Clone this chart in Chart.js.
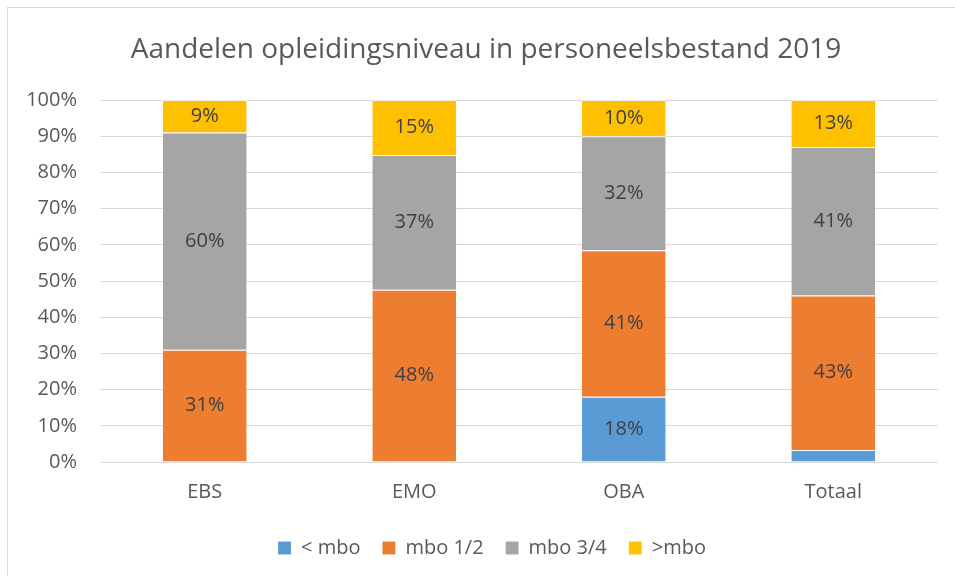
<!DOCTYPE html>
<html>
<head>
<meta charset="utf-8">
<script src="https://cdn.jsdelivr.net/npm/chart.js@4/dist/chart.umd.min.js"></script>
<style>
  html, body { margin: 0; padding: 0; background: #fff; }
  #wrap { position: relative; width: 955px; height: 576px; }
  #frame { position: absolute; left: 7px; top: 7px; width: 960px; height: 600px; border: 1px solid #d9d9d9; pointer-events: none; }
</style>
</head>
<body>
<div id="wrap">
  <canvas id="barChart" width="955" height="576"></canvas>
  <div id="frame"></div>
</div>
<script>
var chartTitle = "Aandelen opleidingsniveau in personeelsbestand 2019";
var categories = ["EBS", "EMO", "OBA", "Totaal"];
var seriesNames = ["< mbo", "mbo 1/2", "mbo 3/4", ">mbo"];
var onderMbo = [0, 0, 18, 3.3];
var mbo12 = [31, 47.6, 40.5, 42.7];
var mbo34 = [60, 37.2, 31.5, 41];
var bovenMbo = [9, 15.2, 10, 13];
var yTicks = [0, 10, 20, 30, 40, 50, 60, 70, 80, 90, 100];

var colors = ["#5b9bd5", "#ed7d31", "#a5a5a5", "#ffc000"];
var fontName = "'Open Sans', sans-serif";

// titel zelf tekenen, gecentreerd op het hele kader
var titlePlugin = {
  id: "titlePlugin",
  afterLayout: function(chart) {
    // legenda iets naar rechts, zoals in het origineel
    chart.legend.left += 23;
    chart.legend.right += 23;
  },
  afterDraw: function(chart) {
    var ctx = chart.ctx;
    ctx.save();
    ctx.font = "28px " + fontName;
    ctx.fillStyle = "#595959";
    ctx.textAlign = "center";
    ctx.textBaseline = "alphabetic";
    ctx.fillText(chartTitle, 486, 58);
    ctx.restore();
  }
};

// eigen plugin voor de waarden in de balken
var segmentLabels = {
  id: "segmentLabels",
  afterDatasetsDraw: function(chart) {
    var ctx = chart.ctx;
    ctx.save();
    ctx.font = "20px " + fontName;
    ctx.fillStyle = "#404040";
    ctx.textAlign = "center";
    ctx.textBaseline = "middle";
    chart.data.datasets.forEach(function(ds, i) {
      var meta = chart.getDatasetMeta(i);
      meta.data.forEach(function(bar, j) {
        var v = ds.data[j];
        if (v < 5) return;
        var mid = (bar.y + bar.base) / 2;
        ctx.fillText(Math.round(v) + "%", bar.x, mid);
      });
    });
    ctx.restore();
  }
};

var ctx = document.getElementById("barChart").getContext("2d");
var chart = new Chart(ctx, {
  type: "bar",
  data: {
    labels: categories,
    datasets: [
      { label: seriesNames[0], data: onderMbo, backgroundColor: colors[0] },
      { label: seriesNames[1], data: mbo12, backgroundColor: colors[1] },
      { label: seriesNames[2], data: mbo34, backgroundColor: colors[2] },
      { label: seriesNames[3], data: bovenMbo, backgroundColor: colors[3] }
    ]
  },
  options: {
    responsive: false,
    animation: false,
    layout: { padding: { left: 0, right: 17, top: 100, bottom: 8 } },
    datasets: {
      bar: {
        categoryPercentage: 1,
        barPercentage: 0.4,
        borderWidth: { top: 1 },
        borderColor: "rgba(255,255,255,0.6)",
        borderSkipped: "bottom"
      }
    },
    plugins: {
      title: { display: false },
      legend: {
        position: "bottom",
        labels: {
          color: "#595959",
          font: { family: fontName, size: 20 },
          boxWidth: 13,
          boxHeight: 13,
          padding: 22
        }
      },
      tooltip: { enabled: false }
    },
    scales: {
      x: {
        stacked: true,
        grid: { display: false, drawTicks: false },
        border: { display: false },
        afterFit: function(scale) { scale.height = scale.height - 6; },
        ticks: {
          color: "#595959",
          font: { family: fontName, size: 20 },
          padding: 18
        }
      },
      y: {
        stacked: true,
        min: 0,
        max: 100,
        afterBuildTicks: function(scale) {
          scale.ticks = yTicks.map(function(v) { return { value: v }; });
        },
        afterFit: function(scale) { scale.width = 100; },
        grid: { color: "#d9d9d9", lineWidth: 1, drawTicks: false },
        border: { display: false },
        ticks: {
          color: "#595959",
          font: { family: fontName, size: 20 },
          padding: 23,
          callback: function(v) { return v + "%"; }
        }
      }
    }
  },
  plugins: [segmentLabels, titlePlugin]
});
</script>
</body>
</html>
